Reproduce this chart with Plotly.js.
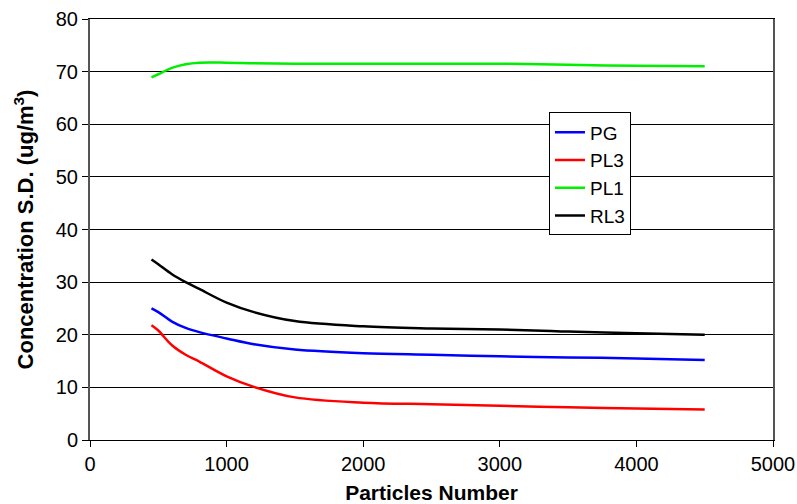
<!DOCTYPE html>
<html>
<head>
<meta charset="utf-8">
<script src="https://cdn.plot.ly/plotly-3.0.1.min.js"></script>
<style>html,body{margin:0;padding:0;background:#fff;}#chart{width:797px;height:504px;}</style>
</head>
<body>
<div id="chart"></div>
<script>
const particles = [450, 500, 600, 700, 800, 1000, 1200, 1500, 2000, 2500, 3000, 3500, 4000, 4500];
const seriesNames = ["PG", "PL3", "PL1", "RL3"];
const PG  = [25.0, 24.3, 22.5, 21.3, 20.5, 19.3, 18.2, 17.2, 16.5, 16.2, 15.9, 15.7, 15.5, 15.2];
const PL3 = [21.8, 20.8, 18.0, 16.2, 14.9, 12.1, 10.1, 8.1, 7.1, 6.8, 6.5, 6.2, 6.0, 5.8];
const PL1 = [68.9, 69.5, 70.7, 71.4, 71.7, 71.7, 71.6, 71.5, 71.5, 71.5, 71.5, 71.3, 71.1, 71.0];
const RL3 = [34.3, 33.4, 31.5, 30.0, 28.7, 26.1, 24.3, 22.6, 21.6, 21.2, 21.0, 20.6, 20.3, 20.0];
const colors = ["#0000ff", "#ff0000", "#00ee00", "#000000"];
const values = [PG, PL3, PL1, RL3];

const traces = seriesNames.map((n, i) => ({
  x: particles, y: values[i], name: n, type: "scatter", mode: "lines",
  line: {color: colors[i], width: 2.5, shape: "spline", smoothing: 1}
}));

const layout = {
  width: 797, height: 504,
  margin: {l: 90, r: 24, t: 19, b: 64},
  paper_bgcolor: "#fff", plot_bgcolor: "#fff",
  font: {family: "Liberation Sans, Arial, sans-serif", size: 20, color: "#000"},
  showlegend: true,
  legend: {x: 0.672, y: 0.778, xanchor: "left", yanchor: "top",
    bordercolor: "#000", borderwidth: 1, bgcolor: "#fff",
    font: {size: 19}, itemwidth: 30, tracegroupgap: 0},
  xaxis: {range: [0, 5000], dtick: 1000, tick0: 0, showgrid: false, zeroline: false,
    showline: true, linecolor: "#000", linewidth: 1, mirror: true,
    ticks: "outside", ticklen: 6, tickcolor: "#000", tickfont: {size: 20},
    title: {text: "<b>Particles Number</b>", font: {size: 21}, standoff: 12}},
  yaxis: {range: [0, 80], dtick: 10, tick0: 0, showgrid: true, gridcolor: "#000", gridwidth: 1,
    zeroline: false, showline: true, linecolor: "#555", linewidth: 2, mirror: true,
    ticks: "outside", ticklen: 6, tickcolor: "#000", tickfont: {size: 20},
    title: {text: "<b>Concentration S.D. (ug/m<sup>3</sup>)</b>", font: {size: 22}, standoff: 16}}
};
Plotly.newPlot("chart", traces, layout, {displayModeBar: false, staticPlot: true});
</script>
</body>
</html>
